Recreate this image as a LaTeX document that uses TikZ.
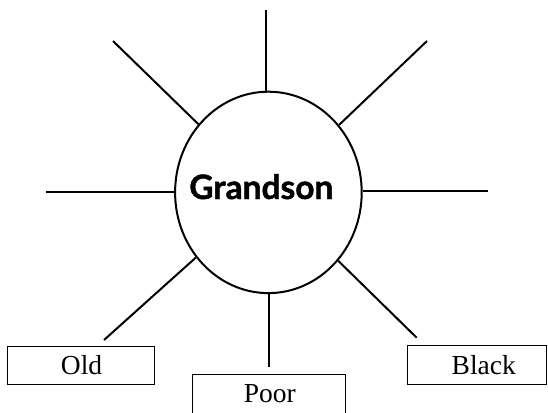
\documentclass[tikz,border=0pt]{standalone}
\usepackage{fontspec}
\setmainfont{Liberation Serif}
\newfontfamily\grfont[BoldFeatures={FakeBold=1.3}]{Lato}
\usetikzlibrary{shapes.geometric}
\tikzset{
  ray/.style={line width=2bp, line cap=butt},
  wordbox/.style={draw, line width=0.9bp, inner sep=0pt, minimum height=38.5bp,
    font=\fontsize{27.5bp}{31bp}\selectfont},
}
\begin{document}
\begin{tikzpicture}[x=1bp,y=-1bp]
\useasboundingbox (0,0) rectangle (548,412);
\begin{scope}
\clip (0,0) rectangle (548,412);
\node[draw, ellipse, line width=2bp, minimum width=186.6bp, minimum height=201.4bp, inner sep=0pt] (g) at (268.4,192.4) {};
\node[font=\grfont\bfseries\fontsize{33.5bp}{38bp}\selectfont, inner sep=0pt, anchor=base] (gt) at (261.3,199) {Grandson};
\coordinate (oT) at (265.7,10);
\coordinate (oUL) at (113,41);
\coordinate (oUR) at (427,41);
\coordinate (oL) at (46,192);
\coordinate (oR) at (488,190.7);
\coordinate (oLL) at (104,340);
\coordinate (oLR) at (416.7,337.7);
\coordinate (oB) at (269,367);
\draw[ray] (oT) -- (oT |- g.north);
\draw[ray] (oUL) -- (g);
\draw[ray] (oUR) -- (g);
\draw[ray] (oL) -- (oL -| g.west);
\draw[ray] (oR) -- (oR -| g.east);
\draw[ray] (oLL) -- (g);
\draw[ray] (oLR) -- (g);
\draw[ray] (oB) -- (oB |- g.south);
\node[wordbox, minimum width=147bp] (old) at (80.8,365.5) {\hspace*{1.5bp}Old};
\node[wordbox, minimum width=152.3bp] (poor) at (268.8,393.8) {\hspace*{2bp}Poor};
\node[wordbox, minimum width=139bp] (black) at (477.3,365) {\hspace*{13bp}Black};
\end{scope}
\end{tikzpicture}
\end{document}
